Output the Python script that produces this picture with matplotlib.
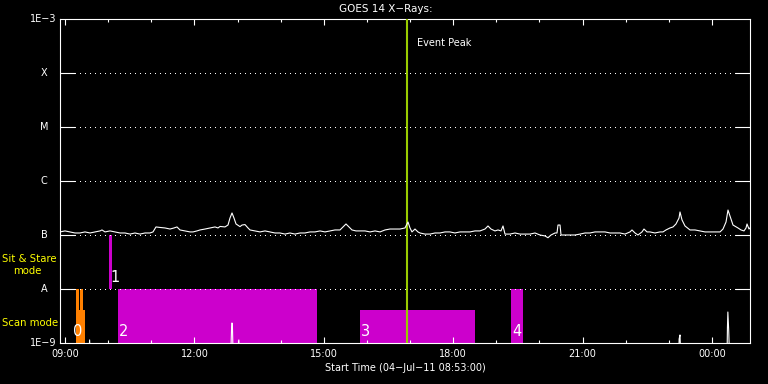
import numpy as np
import matplotlib
matplotlib.use('Agg')
import matplotlib.pyplot as plt
import matplotlib.transforms as mtransforms
from matplotlib.ticker import FuncFormatter, MultipleLocator, NullLocator

# GOES 1-8 A channel, time in hours of 04-Jul-11 (values > 24 are next day), flux in 1e-7 W/m2
t_long = [8.883, 8.999, 9.115, 9.231, 9.347, 9.463, 9.579, 9.695, 9.811, 9.857, 9.927,
          10.043, 10.159, 10.275, 10.391, 10.507, 10.622, 10.738, 10.854, 10.970, 11.040,
          11.109, 11.202, 11.318, 11.434, 11.527, 11.596, 11.666, 11.782, 11.898, 11.968,
          12.060, 12.130, 12.246, 12.362, 12.478, 12.547, 12.594, 12.709, 12.779, 12.825,
          12.872, 12.918, 12.965, 13.057, 13.104, 13.173, 13.243, 13.289, 13.405, 13.521,
          13.637, 13.753, 13.869, 13.985, 14.101, 14.216, 14.332, 14.448, 14.564, 14.680,
          14.796, 14.912, 15.028, 15.144, 15.260, 15.376, 15.446, 15.515, 15.585, 15.654,
          15.747, 15.840, 15.956, 16.072, 16.188, 16.304, 16.420, 16.535, 16.651, 16.767,
          16.883, 16.953, 16.999, 17.045, 17.115, 17.184, 17.231, 17.347, 17.463, 17.579,
          17.695, 17.811, 17.926, 18.042, 18.158, 18.274, 18.390, 18.506, 18.622, 18.738,
          18.808, 18.877, 18.970, 19.040, 19.109, 19.156, 19.202, 19.318, 19.434, 19.550,
          19.666, 19.782, 19.898, 20.014, 20.130, 20.199, 20.269, 20.362, 20.408, 20.431,
          20.478, 20.501, 20.594, 20.710, 20.826, 20.942, 21.058, 21.173, 21.289, 21.405,
          21.521, 21.637, 21.753, 21.869, 21.985, 22.101, 22.147, 22.217, 22.286, 22.379,
          22.425, 22.495, 22.564, 22.680, 22.796, 22.866, 22.935, 23.028, 23.098, 23.167,
          23.237, 23.260, 23.307, 23.376, 23.492, 23.608, 23.724, 23.840, 23.956, 24.072,
          24.188, 24.257, 24.327, 24.373, 24.420, 24.489, 24.605, 24.675, 24.744, 24.791,
          24.814, 24.860, 24.883]
flux_long = [1.14, 1.19, 1.14, 1.09, 1.09, 1.14, 1.09, 1.14, 1.19, 1.24, 1.14,
             1.19, 1.14, 1.09, 1.09, 1.04, 1.09, 1.04, 1.09, 1.09, 1.14,
             1.41, 1.38, 1.35, 1.29, 1.35, 1.41, 1.24, 1.19, 1.14, 1.14,
             1.19, 1.24, 1.29, 1.35, 1.41, 1.35, 1.44, 1.41, 1.53, 2.06,
             2.56, 2.06, 1.60, 1.43, 1.53, 1.56, 1.35, 1.24, 1.19, 1.14,
             1.19, 1.14, 1.09, 1.09, 1.04, 1.09, 1.04, 1.09, 1.09, 1.14,
             1.14, 1.19, 1.14, 1.19, 1.24, 1.24, 1.41, 1.60, 1.41, 1.24,
             1.19, 1.19, 1.19, 1.14, 1.19, 1.14, 1.24, 1.29, 1.29, 1.29,
             1.35, 1.74, 1.35, 1.14, 1.29, 1.14, 1.09, 1.04, 1.04, 1.09,
             1.09, 1.14, 1.14, 1.09, 1.14, 1.14, 1.14, 1.19, 1.19, 1.29,
             1.47, 1.29, 1.19, 1.24, 1.19, 1.47, 1.04, 1.04, 1.09, 1.04,
             1.04, 1.04, 1.09, 1.00, 0.96, 0.89, 1.00, 1.09, 1.09, 1.53,
             1.53, 1.00, 1.00, 1.00, 1.00, 1.04, 1.09, 1.09, 1.14, 1.14,
             1.14, 1.09, 1.09, 1.09, 1.04, 1.14, 1.24, 1.09, 1.00, 1.14,
             1.29, 1.14, 1.14, 1.09, 1.14, 1.14, 1.24, 1.35, 1.41, 1.60,
             2.06, 2.67, 1.90, 1.47, 1.24, 1.24, 1.19, 1.14, 1.14, 1.14,
             1.14, 1.29, 1.74, 2.90, 2.25, 1.53, 1.35, 1.24, 1.19, 1.35,
             1.60, 1.29, 1.35]

# GOES 0.5-4 A channel (mostly below 1E-9), flux in W/m2
t_short = [8.883, 9.55, 9.57, 9.59, 12.84, 12.86, 12.87, 12.88, 12.90, 13.02, 13.03, 13.05,
           23.23, 23.24, 23.26, 23.28, 24.35, 24.36, 24.37, 24.39, 24.41, 24.883]
flux_short = [5e-10, 5e-10, 1.14e-9, 5e-10, 5e-10, 1.7e-9, 2.35e-9, 2.3e-9, 5e-10, 5e-10, 1.14e-9, 5e-10,
              5e-10, 1.19e-9, 1.41e-9, 5e-10, 5e-10, 1.9e-9, 3.75e-9, 1.67e-9, 5e-10, 5e-10]

# observation blocks: start, end (hours), bottom, top (W/m2)
scan_start = [9.254, 9.347, 9.254]
scan_end = [9.320, 9.415, 9.463]
scan_bottom = [1e-9, 1e-9, 1e-9]
scan_top = [1e-8, 1e-8, 4.1e-9]

obs_start = [10.02, 10.221, 15.84, 19.34]
obs_end = [10.09, 14.836, 18.506, 19.61]
obs_bottom = [1e-8, 1e-9, 1e-9, 1e-9]
obs_top = [1e-7, 1e-8, 4.1e-9, 1e-8]
obs_labels = ['1', '2', '3', '4']

event_peak = 16.92
t_min, t_max = 8 + 53 / 60, 24 + 53 / 60

flux_levels = [1e-9, 1e-8, 1e-7, 1e-6, 1e-5, 1e-4, 1e-3]
level_labels = ['1E-9', 'A', 'B', 'C', 'M', 'X', '1E-3']

plt.rcParams['font.family'] = 'DejaVu Sans'
fs = 7

fig = plt.figure(figsize=(7.68, 3.84), dpi=100, facecolor='black')
ax = fig.add_axes([60 / 768, 41 / 384, 690 / 768, 324 / 384], facecolor='black')

# blocks
ax.bar(scan_start, np.array(scan_top) - np.array(scan_bottom), bottom=scan_bottom,
       width=np.array(scan_end) - np.array(scan_start), align='edge', color='#ff8000',
       antialiased=False, zorder=1)
ax.bar(obs_start, np.array(obs_top) - np.array(obs_bottom), bottom=obs_bottom,
       width=np.array(obs_end) - np.array(obs_start), align='edge', color='#cc00cc',
       antialiased=False, zorder=1)

ax.axvline(event_peak, color='#99cc00', lw=1.5, zorder=3)
ax.plot(t_short, flux_short, color='white', lw=0.8, zorder=4)
ax.plot(t_long, np.array(flux_long) * 1e-7, color='white', lw=0.8, zorder=4)

ax.set_yscale('log')
ax.set_ylim(1e-9, 1e-3)
ax.set_xlim(t_min, t_max)

ax.set_yticks(flux_levels[1:-1])
ax.yaxis.set_minor_locator(NullLocator())
ax.set_yticklabels([])
ax.tick_params(axis='y', which='both', direction='in', length=10.8, width=0.8,
               color='white', left=True, right=True)
ax.grid(axis='y', color='white', linestyle=(0, (1, 5)), linewidth=0.72, antialiased=False)
ax.set_axisbelow(False)

ax.xaxis.set_major_locator(MultipleLocator(3))
ax.xaxis.set_minor_locator(MultipleLocator(1))
ax.xaxis.set_major_formatter(FuncFormatter(lambda v, p: f"{int(round(v)) % 24:02d}:00"))
ax.tick_params(axis='x', which='major', direction='in', length=4.3, width=0.8,
               color='white', top=True, bottom=True, labelcolor='white', labelsize=fs, pad=4)
ax.tick_params(axis='x', which='minor', direction='in', length=2.2, width=0.8,
               color='white', top=True, bottom=True)

for s in ax.spines.values():
    s.set_color('white')
    s.set_linewidth(0.8)

# y level labels
trans = mtransforms.blended_transform_factory(ax.transAxes, ax.transData)
for lev, lab in zip(flux_levels, level_labels):
    if lab.startswith('1E'):
        ax.text(-0.0045, lev, lab.replace('-', '\u2212'), transform=trans, ha='right', va='center',
                color='white', fontsize=fs)
    else:
        ax.text(-0.0232, lev, lab, transform=trans, ha='center', va='center',
                color='white', fontsize=fs)

# block numbers
ax.text(9.30, 1.6e-9, '0', color='white', fontsize=10.5, ha='center', va='center', zorder=5)
for s0, lab, bot in zip(obs_start, obs_labels, obs_bottom):
    ax.text(s0 + 0.03, bot * 1.6, lab, color='white', fontsize=10.5, ha='left', va='center', zorder=5)

ax.annotate('Event Peak', xy=(event_peak, 1), xycoords=('data', 'axes fraction'),
            xytext=(7.6, -17.3), textcoords='offset points', color='white', fontsize=fs,
            ha='left', va='center')

ax.text(0.5, -0.077, 'Start Time (04\u2212Jul\u221211 08:53:00)', transform=ax.transAxes,
        ha='center', va='center', color='white', fontsize=fs)
fig.text(0.503, 1 - 9 / 384, 'GOES 14 X\u2212Rays:', ha='center', va='center', color='white',
         fontsize=7.5)

fig.text(2 / 768, 1 - 259 / 384, 'Sit & Stare', color='yellow', fontsize=7.3, ha='left', va='center')
fig.text(13 / 768, 1 - 271 / 384, 'mode', color='yellow', fontsize=7.3, ha='left', va='center')
fig.text(2 / 768, 1 - 323 / 384, 'Scan mode', color='yellow', fontsize=7.3, ha='left', va='center')

fig.savefig('out.png', dpi=100, facecolor='black')
